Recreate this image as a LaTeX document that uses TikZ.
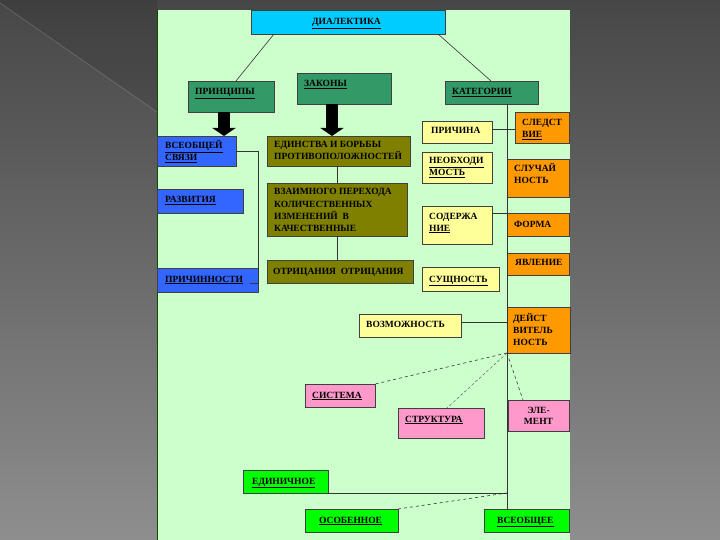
\documentclass[tikz,border=0pt]{standalone}
\usepackage{fontspec}
\setmainfont{Liberation Serif}
\usetikzlibrary{arrows.meta}
\definecolor{bgtop}{HTML}{474747}
\definecolor{bgbot}{HTML}{8E8E8E}
\definecolor{panel}{HTML}{CCFFCC}
\definecolor{cyanb}{HTML}{00CCFF}
\definecolor{sea}{HTML}{339966}
\definecolor{blueb}{HTML}{3366FF}
\definecolor{oliv}{HTML}{808000}
\definecolor{yel}{HTML}{FFFF99}
\definecolor{orng}{HTML}{FF9900}
\definecolor{pnk}{HTML}{FF99CC}
\definecolor{grn}{HTML}{00FF00}
\tikzset{
  box/.style={draw=black!75, line width=0.6pt, inner sep=0pt, outer sep=0pt, anchor=north west},
  lbl/.style={font=\bfseries\fontsize{9.5}{12}\selectfont, inner sep=0pt, anchor=base west, align=left, text=black},
  conn/.style={draw=black!80, line width=0.6pt},
  blk/.style={line width=12pt, -{Triangle[width=23pt,length=8pt]}, black},
}
\newcommand\bx[6]{\node[box,fill=#6,minimum width={(#4-(#2))*1pt},minimum height={(#5-(#3))*1pt}] (#1) at (#2,#3) {};}
\begin{document}
\begin{tikzpicture}[x=1pt,y=-1pt]
\useasboundingbox (0,0) rectangle (720,540);
\shade[top color=bgtop, bottom color=bgbot] (0,0) rectangle (720,540);
\fill[black,opacity=0.10] (0,0) -- (0,3) -- (157,112) -- (157,0) -- cycle;
\draw[white,opacity=0.2,line width=0.6pt] (0,3) -- (157,112);
\fill[panel] (157,10) rectangle (570,540);
\draw[green!30!black,line width=0.8pt] (157,10) -- (157,540);

% boxes
\bx{dial}{251}{10}{445}{34}{cyanb}
\bx{prin}{188}{81}{274}{112}{sea}
\bx{zak}{297}{73}{391}{104}{sea}
\bx{kat}{445}{81}{538}{104}{sea}
\bx{vs}{157}{136}{236}{166}{blueb}
\bx{razv}{157}{189}{243}{213}{blueb}
\bx{prich}{157}{268}{258}{292}{blueb}
\bx{ed}{267}{136}{410}{166}{oliv}
\bx{vz}{267}{183}{407}{236}{oliv}
\bx{otr}{267}{260}{413}{283}{oliv}
\bx{pr}{422}{121}{492}{143}{yel}
\bx{sl}{515}{112}{569}{143}{orng}
\bx{neo}{422}{152}{492}{183}{yel}
\bx{slu}{507}{159}{569}{197}{orng}
\bx{sod}{422}{206}{492}{244}{yel}
\bx{form}{507}{213}{569}{236}{orng}
\bx{yav}{507}{253}{569}{275}{orng}
\bx{sush}{422}{267}{499}{291}{yel}
\bx{voz}{359}{314}{461}{337}{yel}
\bx{deis}{507}{307}{570}{353}{orng}
\bx{sist}{305}{384}{375}{407}{pnk}
\bx{str}{398}{408}{484}{438}{pnk}
\bx{elem}{508}{400}{569}{431}{pnk}
\bx{edin}{243}{470}{328}{493}{grn}
\bx{osob}{305}{509}{398}{532}{grn}
\bx{vseo}{484}{509}{569}{532}{grn}

% labels (base = baseline of last line)
\node[lbl] (tdial) at (312,24.5) {\underline{ДИАЛЕКТИКА}};
\node[lbl] (tprin) at (195,95) {\underline{ПРИНЦИПЫ}};
\node[lbl] (tzak) at (304,87) {\underline{ЗАКОНЫ}};
\node[lbl] (tkat) at (452,95) {\underline{КАТЕГОРИИ}};
\node[lbl] (tvs) at (165,161) {\underline{ВСЕОБЩЕЙ}\\\underline{СВЯЗИ}};
\node[lbl] (trazv) at (165,203) {\underline{РАЗВИТИЯ}};
\node[lbl] (tprich) at (165,282) {\underline{ПРИЧИННОСТИ}};
\node[lbl] (ted) at (274,160) {ЕДИНСТВА И БОРЬБЫ\\ПРОТИВОПОЛОЖНОСТЕЙ};
\node[lbl] (tvz) at (274,231) {ВЗАИМНОГО ПЕРЕХОДА\\КОЛИЧЕСТВЕННЫХ\\ИЗМЕНЕНИЙ\ \ В\\КАЧЕСТВЕННЫЕ};
\node[lbl] (totr) at (273,274) {ОТРИЦАНИЯ\ \ ОТРИЦАНИЯ};
\node[lbl] (tpr) at (431,134) {ПРИЧИНА};
\node[lbl] (tsl) at (522,138) {СЛЕДСТ\\\underline{ВИЕ}};
\node[lbl] (tneo) at (429,176) {\underline{НЕОБХОДИ}\\\underline{МОСТЬ}};
\node[lbl] (tslu) at (514,184) {СЛУЧАЙ\\НОСТЬ};
\node[lbl] (tsod) at (429,231) {СОДЕРЖА\\\underline{НИЕ}};
\node[lbl] (tform) at (514,228) {ФОРМА};
\node[lbl] (tyav) at (515,265) {ЯВЛЕНИЕ};
\node[lbl] (tsush) at (429,282) {\underline{СУЩНОСТЬ}};
\node[lbl] (tvoz) at (366,327) {ВОЗМОЖНОСТЬ};
\node[lbl] (tdeis) at (513,345) {ДЕЙСТ\\ВИТЕЛЬ\\НОСТЬ};
\node[lbl] (tsist) at (312,398) {\underline{СИСТЕМА}};
\node[lbl] (tstr) at (405,422) {\underline{СТРУКТУРА}};
\node[lbl,anchor=base,align=center,font=\bfseries\fontsize{9.5}{11}\selectfont] (telem) at (538.5,424) {ЭЛЕ-\\МЕНТ};
\node[lbl] (tedin) at (252,484) {\underline{ЕДИНИЧНОЕ}};
\node[lbl] (tosob) at (319,523) {\underline{ОСОБЕННОЕ}};
\node[lbl] (tvseo) at (497,523) {\underline{ВСЕОБЩЕЕ}};

% connectors
\draw[conn] ([xshift=23pt]dial.south west) -- ([xshift=48pt]prin.north west);
\draw[conn] ([xshift=187pt]dial.south west) -- ([xshift=46pt]kat.north west);
\coordinate (a1) at ([xshift=-7pt]prin.south);
\draw[blk] (a1) -- (a1 |- vs.north);
\coordinate (a2) at ([xshift=-12pt]zak.south);
\draw[blk] (a2) -- (a2 |- ed.north);
\coordinate (j1) at (258,283);
\coordinate (j2) at (250,283);
\draw[conn] (vs.east) -| (j1) -- (j2);
\draw[conn] (vz.north) -- (vz.north |- ed.south);
\draw[conn] (vz.south) -- (vz.south |- otr.north);
\coordinate (k1) at ([xshift=15.5pt]kat.south);
\draw[conn] (k1) -- (k1 |- vseo.north);
\coordinate (c0) at ([yshift=3pt]pr.east);
\draw[conn] (c0) -- (c0 -| sl.west);
\coordinate (c1) at ([yshift=12pt]sod.east);
\draw[conn] (c1) -- (c1 -| form.west);
\coordinate (c2) at ([yshift=3.5pt]voz.east);
\draw[conn] (c2) -- (c2 -| deis.west);
\draw[conn,dashed] (deis.south west) -- (sist.north east);
\draw[draw=black!70,line width=0.4pt,densely dashed] (deis.south west) -- ([xshift=6pt]str.north);
\draw[conn,dashed] (deis.south west) -- ([xshift=15pt]elem.north west);
\coordinate (k2) at (edin.south east -| k1);
\draw[conn] (edin.south east) -- (k2);
\draw[conn,dashed] (osob.north east) -- (k2);
\end{tikzpicture}
\end{document}
